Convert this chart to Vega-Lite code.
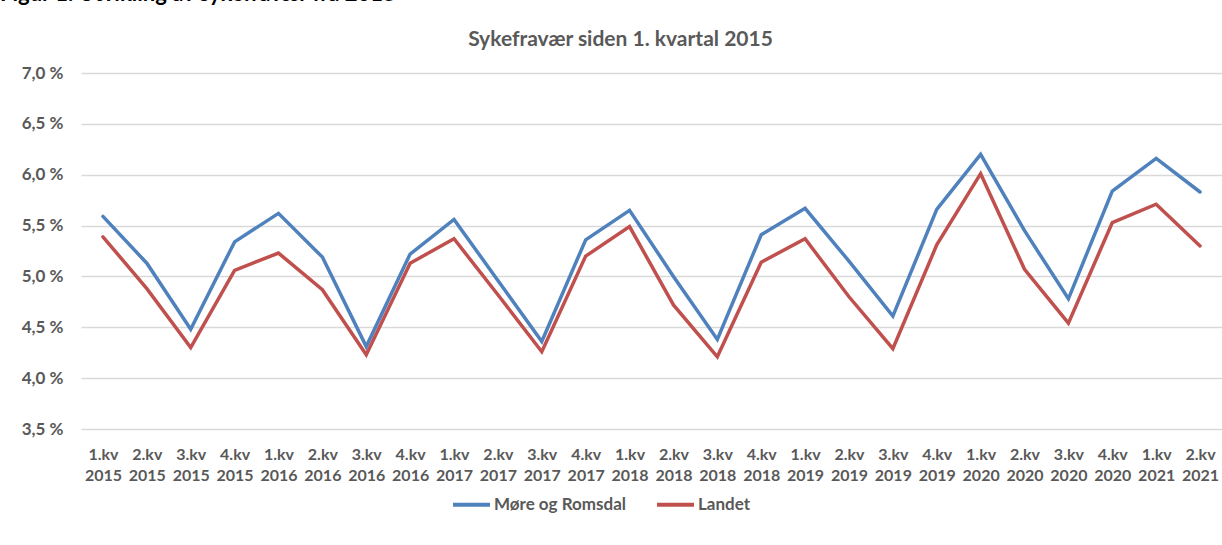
{
  "$schema": "https://vega.github.io/schema/vega-lite/v6.json",
  "autosize": "none",
  "width": 1141,
  "height": 356,
  "padding": {"left": 81, "top": 73, "right": 0, "bottom": 116},
  "background": "white",
  "config": {
    "font": "Lato",
    "view": {"stroke": null},
    "axis": {"labelFont": "Lato", "titleFont": "Lato"}
  },
  "title": {
    "text": "Figur 1. Utvikling av sykefravær fra 2015",
    "anchor": "start",
    "frame": "group",
    "dx": -81,
    "offset": 22,
    "font": "Lato",
    "fontSize": 22,
    "fontWeight": "bold",
    "color": "#000000"
  },
  "data": {
    "values": [
      {"kvartal": "1.kv 2015", "serie": "Møre og Romsdal", "verdi": 5.59},
      {"kvartal": "2.kv 2015", "serie": "Møre og Romsdal", "verdi": 5.13},
      {"kvartal": "3.kv 2015", "serie": "Møre og Romsdal", "verdi": 4.48},
      {"kvartal": "4.kv 2015", "serie": "Møre og Romsdal", "verdi": 5.34},
      {"kvartal": "1.kv 2016", "serie": "Møre og Romsdal", "verdi": 5.62},
      {"kvartal": "2.kv 2016", "serie": "Møre og Romsdal", "verdi": 5.19},
      {"kvartal": "3.kv 2016", "serie": "Møre og Romsdal", "verdi": 4.31},
      {"kvartal": "4.kv 2016", "serie": "Møre og Romsdal", "verdi": 5.22},
      {"kvartal": "1.kv 2017", "serie": "Møre og Romsdal", "verdi": 5.56},
      {"kvartal": "2.kv 2017", "serie": "Møre og Romsdal", "verdi": 4.96},
      {"kvartal": "3.kv 2017", "serie": "Møre og Romsdal", "verdi": 4.36},
      {"kvartal": "4.kv 2017", "serie": "Møre og Romsdal", "verdi": 5.36},
      {"kvartal": "1.kv 2018", "serie": "Møre og Romsdal", "verdi": 5.65},
      {"kvartal": "2.kv 2018", "serie": "Møre og Romsdal", "verdi": 5.00},
      {"kvartal": "3.kv 2018", "serie": "Møre og Romsdal", "verdi": 4.38},
      {"kvartal": "4.kv 2018", "serie": "Møre og Romsdal", "verdi": 5.41},
      {"kvartal": "1.kv 2019", "serie": "Møre og Romsdal", "verdi": 5.67},
      {"kvartal": "2.kv 2019", "serie": "Møre og Romsdal", "verdi": 5.15},
      {"kvartal": "3.kv 2019", "serie": "Møre og Romsdal", "verdi": 4.61},
      {"kvartal": "4.kv 2019", "serie": "Møre og Romsdal", "verdi": 5.66},
      {"kvartal": "1.kv 2020", "serie": "Møre og Romsdal", "verdi": 6.20},
      {"kvartal": "2.kv 2020", "serie": "Møre og Romsdal", "verdi": 5.45},
      {"kvartal": "3.kv 2020", "serie": "Møre og Romsdal", "verdi": 4.78},
      {"kvartal": "4.kv 2020", "serie": "Møre og Romsdal", "verdi": 5.84},
      {"kvartal": "1.kv 2021", "serie": "Møre og Romsdal", "verdi": 6.16},
      {"kvartal": "2.kv 2021", "serie": "Møre og Romsdal", "verdi": 5.83},
      {"kvartal": "1.kv 2015", "serie": "Landet", "verdi": 5.39},
      {"kvartal": "2.kv 2015", "serie": "Landet", "verdi": 4.88},
      {"kvartal": "3.kv 2015", "serie": "Landet", "verdi": 4.30},
      {"kvartal": "4.kv 2015", "serie": "Landet", "verdi": 5.06},
      {"kvartal": "1.kv 2016", "serie": "Landet", "verdi": 5.23},
      {"kvartal": "2.kv 2016", "serie": "Landet", "verdi": 4.87},
      {"kvartal": "3.kv 2016", "serie": "Landet", "verdi": 4.23},
      {"kvartal": "4.kv 2016", "serie": "Landet", "verdi": 5.13},
      {"kvartal": "1.kv 2017", "serie": "Landet", "verdi": 5.37},
      {"kvartal": "2.kv 2017", "serie": "Landet", "verdi": 4.82},
      {"kvartal": "3.kv 2017", "serie": "Landet", "verdi": 4.26},
      {"kvartal": "4.kv 2017", "serie": "Landet", "verdi": 5.20},
      {"kvartal": "1.kv 2018", "serie": "Landet", "verdi": 5.49},
      {"kvartal": "2.kv 2018", "serie": "Landet", "verdi": 4.72},
      {"kvartal": "3.kv 2018", "serie": "Landet", "verdi": 4.21},
      {"kvartal": "4.kv 2018", "serie": "Landet", "verdi": 5.14},
      {"kvartal": "1.kv 2019", "serie": "Landet", "verdi": 5.37},
      {"kvartal": "2.kv 2019", "serie": "Landet", "verdi": 4.80},
      {"kvartal": "3.kv 2019", "serie": "Landet", "verdi": 4.29},
      {"kvartal": "4.kv 2019", "serie": "Landet", "verdi": 5.31},
      {"kvartal": "1.kv 2020", "serie": "Landet", "verdi": 6.01},
      {"kvartal": "2.kv 2020", "serie": "Landet", "verdi": 5.07},
      {"kvartal": "3.kv 2020", "serie": "Landet", "verdi": 4.54},
      {"kvartal": "4.kv 2020", "serie": "Landet", "verdi": 5.53},
      {"kvartal": "1.kv 2021", "serie": "Landet", "verdi": 5.71},
      {"kvartal": "2.kv 2021", "serie": "Landet", "verdi": 5.30}
    ]
  },
  "mark": {"type": "line", "strokeWidth": 3.5, "strokeCap": "round", "strokeJoin": "miter"},
  "encoding": {
    "x": {
      "field": "kvartal",
      "type": "ordinal",
      "sort": null,
      "scale": {"type": "point", "padding": 0.5},
      "axis": {
        "title": null,
        "labelAngle": 0,
        "labelExpr": "split(datum.value, ' ')",
        "labelLineHeight": 21,
        "labelFontSize": 16,
        "labelFontWeight": "bold",
        "labelColor": "#595959",
        "labelPadding": 17,
        "labelBaseline": "top",
        "labelOverlap": false,
        "ticks": false,
        "domain": false,
        "grid": false
      }
    },
    "y": {
      "field": "verdi",
      "type": "quantitative",
      "scale": {"domain": [3.5, 7.0], "nice": false, "zero": false},
      "axis": {
        "values": [3.5, 4.0, 4.5, 5.0, 5.5, 6.0, 6.5, 7.0],
        "labelExpr": "replace(format(datum.value, '.1f'), '.', ',') + ' %'",
        "labelFontSize": 17,
        "labelFontWeight": "bold",
        "labelColor": "#595959",
        "labelPadding": 18,
        "ticks": false,
        "domain": false,
        "grid": true,
        "gridColor": "#d9d9d9",
        "gridWidth": 1.3,
        "title": "Sykefravær siden 1. kvartal 2015",
        "titleAngle": 0,
        "titleX": 539,
        "titleY": -28,
        "titleAlign": "center",
        "titleBaseline": "alphabetic",
        "titleFontSize": 21,
        "titleFontWeight": "bold",
        "titleColor": "#595959"
      }
    },
    "color": {
      "field": "serie",
      "type": "nominal",
      "scale": {"domain": ["Møre og Romsdal", "Landet"], "range": ["#4f81bd", "#c0504d"]},
      "legend": {
        "title": null,
        "orient": "none",
        "legendX": 370,
        "legendY": 411,
        "direction": "horizontal",
        "symbolType": "stroke",
        "symbolStrokeWidth": 4,
        "symbolSize": 1369,
        "labelFontSize": 17,
        "labelFontWeight": "bold",
        "labelColor": "#595959",
        "labelOffset": 2,
        "columnPadding": 22
      }
    }
  }
}
